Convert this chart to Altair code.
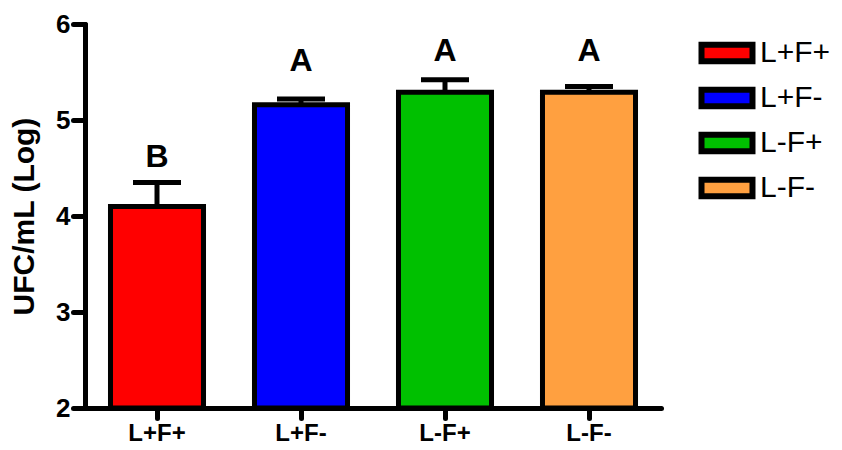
import altair as alt
import pandas as pd

groups = ["L+F+", "L+F-", "L-F+", "L-F-"]
means = [4.10, 5.16, 5.29, 5.29]
errors = [0.25, 0.06, 0.13, 0.06]
letters = ["B", "A", "A", "A"]
letter_y = [4.51, 5.51, 5.61, 5.61]
colors = ["#FF0000", "#0000FF", "#00C000", "#FFA040"]

df = pd.DataFrame({"group": groups, "mean": means, "err": errors,
                   "letter": letters, "ly": letter_y})
df["top"] = df["mean"] + df["err"]

FONT = "Liberation Sans"

x_enc = alt.X("group:N", sort=groups,
              scale=alt.Scale(paddingInner=0.354, paddingOuter=0.177),
              axis=alt.Axis(title=None, labelAngle=0, labelFont=FONT, labelFontSize=24,
                            labelFontWeight="bold", labelColor="black", tickSize=10,
                            tickWidth=5, tickColor="black", tickCap="round",
                            domainWidth=5, domainColor="black", domainCap="round",
                            labelPadding=3))
yscale = alt.Scale(domain=[2, 6], nice=False, zero=False)
y_axis = alt.Axis(title="UFC/mL (Log)", values=[2, 3, 4, 5, 6], format="d",
                  labelFont=FONT, labelFontSize=26, labelFontWeight="bold",
                  labelColor="black", tickSize=12, tickWidth=5, tickColor="black",
                  tickCap="round", domainWidth=5, domainColor="black", domainCap="round",
                  labelPadding=3, grid=False, titleFont=FONT, titleFontSize=30,
                  titleFontWeight="bold", titleColor="black", titlePadding=16)

base = alt.Chart(df)

bars = base.mark_bar(stroke="black", strokeWidth=5, strokeJoin="miter").encode(
    x=x_enc,
    y=alt.Y("mean:Q", scale=yscale, axis=y_axis),
    y2=alt.datum(2),
    fill=alt.Fill("group:N", sort=groups,
                  scale=alt.Scale(domain=groups, range=colors),
                  legend=alt.Legend(title=None, orient="none", legendX=626, legendY=13,
                                    symbolType="M-2,-0.65H2V0.65H-2Z", symbolSize=650,
                                    symbolStrokeColor="black", symbolStrokeWidth=6,
                                    symbolOpacity=1,
                                    labelFont=FONT, labelFontSize=30, labelColor="black",
                                    labelOffset=17, rowPadding=3, padding=0)),
)

err_rule = base.mark_rule(color="black", strokeWidth=5).encode(
    x=alt.X("group:N", sort=groups),
    y=alt.Y("mean:Q"),
    y2="top:Q",
)

caps = base.mark_tick(color="black", size=48, thickness=5, opacity=1).encode(
    x=alt.X("group:N", sort=groups),
    y=alt.Y("top:Q"),
)

labels = base.mark_text(font=FONT, fontSize=32, fontWeight="bold", color="black",
                        baseline="alphabetic").encode(
    x=alt.X("group:N", sort=groups),
    y=alt.Y("ly:Q"),
    text="letter:N",
)

chart = alt.layer(bars, err_rule, caps, labels).properties(
    width=576, height=384,
    autosize=alt.AutoSizeParams(type="none"),
    padding={"left": 77, "top": 16, "right": 172, "bottom": 40},
).configure_view(stroke=None)

chart.save("out.html", embed_options={"renderer": "svg", "actions": False})
